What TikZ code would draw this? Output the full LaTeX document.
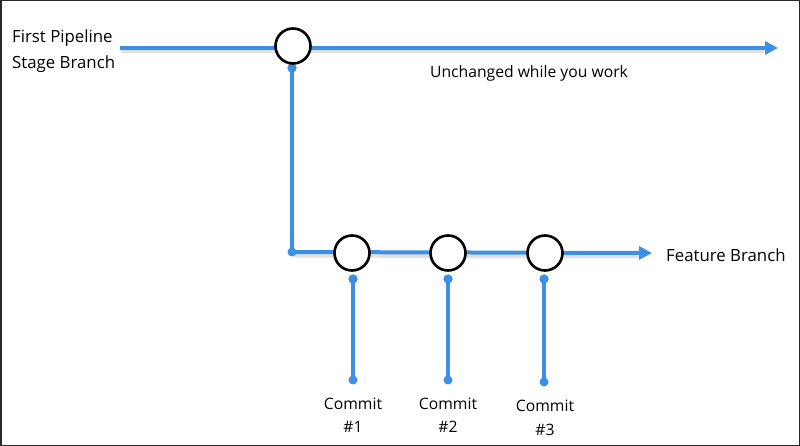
\documentclass[tikz,border=0pt]{standalone}
\usepackage{fontspec}
\setmainfont{Open Sans}
\usetikzlibrary{arrows.meta}
\definecolor{branch}{RGB}{61,143,230}
\definecolor{frame}{RGB}{40,40,40}
\tikzset{
  line/.style={draw=branch,line width=4pt},
  shadowline/.style={draw=black,opacity=0.12,line width=5pt},
  commitc/.style={circle,draw=black,line width=2.6pt,fill=white,minimum size=35pt,inner sep=0pt},
  dotc/.style={circle,fill=branch,minimum size=9pt,inner sep=0pt},
  lbl/.style={font=\fontsize{15.7}{18}\selectfont,text=black,inner sep=0pt},
  biglbl/.style={font=\fontsize{16.8}{20}\selectfont,text=black,inner sep=0pt},
  arr/.style={-{Triangle[length=13pt,width=13pt]}},
}
\begin{document}
\begin{tikzpicture}[x=1pt,y=-1pt]
\useasboundingbox (0,0) rectangle (800,446);
\draw[frame,line width=1.5pt] (0.75,0.75) rectangle (799.25,445.25);
% coordinates
\coordinate (ms) at (120,48);
\coordinate (me) at (778,48);
\coordinate (corner) at (292,252);
\coordinate (fe) at (652,253);
\node[dotc] (d0) at (292,68) {};
\node[dotc] (d1a) at (353,279) {};
\node[dotc] (d2a) at (448,279) {};
\node[dotc] (d3a) at (544,279) {};
\node[dotc] (d1b) at (353,380) {};
\node[dotc] (d2b) at (448,380) {};
\node[dotc] (d3b) at (544,382) {};
% shadows
\draw[shadowline] ([shift={(1,3)}]ms) -- ([shift={(-14,3)}]me);
\draw[shadowline] ([shift={(1,3)}]corner) -- ([shift={(-14,3)}]fe);
% lines
\draw[line,arr] (ms) -- (me);
\draw[line] (d0.center) -- (corner);
\draw[line,arr] ([xshift=-2pt]corner) -- (fe);
\draw[line] (d1a.center) -- (d1b.center);
\draw[line] (d2a.center) -- (d2b.center);
\draw[line] (d3a.center) -- (d3b.center);
\node[dotc] at (d0) {};
\node[dotc] at (corner) {};
% circles
\node[commitc] (m) at (293,46) {};
\node[commitc] (c1) at (352,253) {};
\node[commitc] (c2) at (448,253) {};
\node[commitc] (c3) at (545,253) {};
\node[dotc] at (d1a) {};
\node[dotc] at (d2a) {};
\node[dotc] at (d3a) {};
% labels
\node[biglbl,anchor=west] (t1) at (12,38) {First Pipeline};
\node[biglbl,anchor=west] (t2) at (12,64) {Stage Branch};
\node[lbl] (un) at (529,73) {Unchanged while you work};
\node[biglbl,anchor=west] (fb) at (666,255) {Feature Branch};
\node[lbl] (k1) at (353,404) {Commit};
\node[lbl] (n1) at (353,427) {\#1};
\node[lbl] (k2) at (448,404) {Commit};
\node[lbl] (n2) at (448,427) {\#2};
\node[lbl] (k3) at (545,406) {Commit};
\node[lbl] (n3) at (545,430) {\#3};
\end{tikzpicture}
\end{document}
